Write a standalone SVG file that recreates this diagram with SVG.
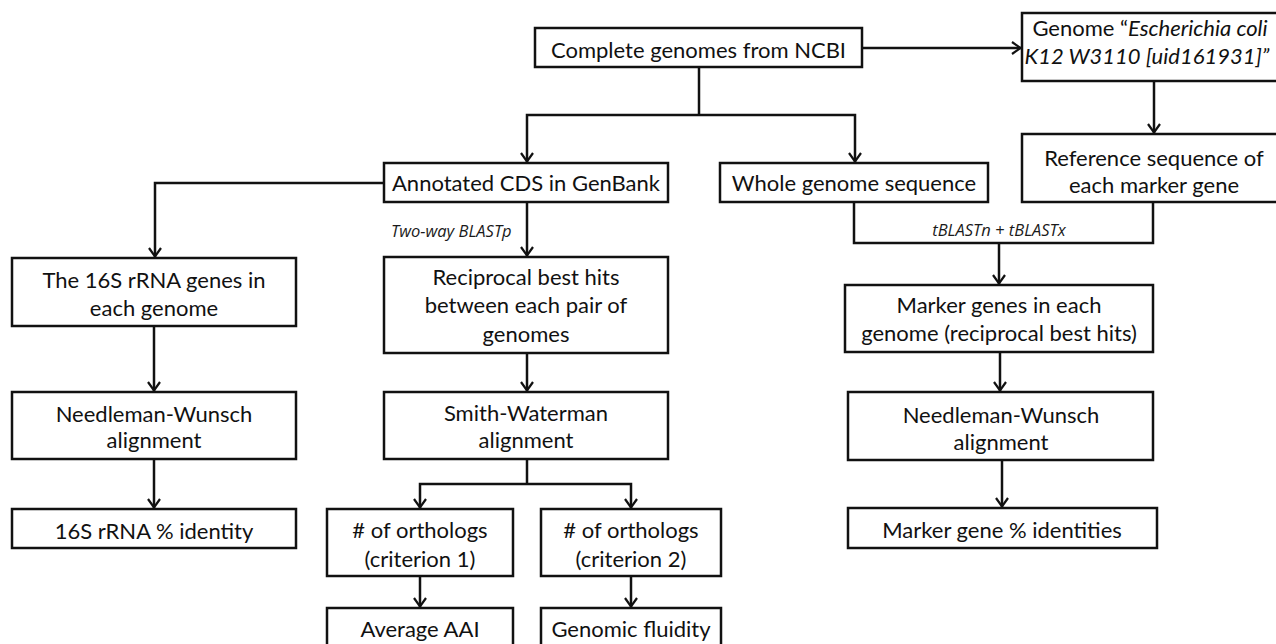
<svg xmlns="http://www.w3.org/2000/svg" width="1276" height="644" viewBox="0 0 1276 644">
<style>
  .box { fill: #fff; stroke: #111; stroke-width: 2.5; }
  .t { font-family: Lato, "Liberation Sans", sans-serif; font-size: 22px; fill: #111; text-anchor: middle; }
  .it { font-style: italic; }
  .lbl { font-family: "Open Sans", "Liberation Sans", sans-serif; font-size: 16.5px; font-style: italic; fill: #1a1a1a; }
  .c { fill: none; stroke: #111; stroke-width: 2.5; }
  .a { marker-end: url(#arr); }
</style>
<defs>
  <marker id="arr" viewBox="0 0 12 14" refX="11" refY="7" markerWidth="12" markerHeight="14" markerUnits="userSpaceOnUse" orient="auto">
    <path d="M2,1 L10.5,7 L2,13" fill="none" stroke="#111" stroke-width="2.2"/>
  </marker>
</defs>
<rect width="1276" height="644" fill="#fff"/>

<g id="connectors">
  <path class="c a" d="M862,48 H1021"/>
  <path class="c" d="M699,67 V115"/>
  <path class="c a" d="M699,115 H527 V162"/>
  <path class="c a" d="M699,115 H855 V162"/>
  <path class="c a" d="M1154,81 V133"/>
  <path class="c a" d="M384,183 H155 V257"/>
  <path class="c a" d="M527,202 V256"/>
  <path class="c" d="M854,202 V243 H1153 V202"/>
  <path class="c a" d="M999,243 V284"/>
  <path class="c a" d="M154,326 V391"/>
  <path class="c a" d="M154,459 V508"/>
  <path class="c a" d="M527,353 V391"/>
  <path class="c" d="M527,459 V484"/>
  <path class="c a" d="M527,484 H420 V508"/>
  <path class="c a" d="M527,484 H631 V508"/>
  <path class="c a" d="M420,576 V607"/>
  <path class="c a" d="M631,576 V607"/>
  <path class="c a" d="M1000,352 V391"/>
  <path class="c a" d="M1002,460 V507"/>
  <text class="lbl" x="391" y="237">Two-way BLASTp</text>
  <text class="lbl" x="999" y="236" text-anchor="middle">tBLASTn + tBLASTx</text>
</g>

<g id="complete">
  <rect class="box" x="535" y="28" width="327" height="39"/>
  <text class="t" x="698.5" y="58">Complete genomes from NCBI</text>
</g>
<g id="genome">
  <rect class="box" x="1022" y="13" width="270" height="68"/>
  <text class="t" x="1150" y="36">Genome “<tspan class="it">Escherichia coli</tspan></text>
  <text class="t it" x="1147" y="64">K12 W3110 [uid161931]”</text>
</g>
<g id="reference">
  <rect class="box" x="1022" y="134" width="270" height="68"/>
  <text class="t" x="1154" y="166">Reference sequence of</text>
  <text class="t" x="1154" y="193">each marker gene</text>
</g>
<g id="annotated">
  <rect class="box" x="384" y="163" width="284" height="39"/>
  <text class="t" x="526" y="191">Annotated CDS in GenBank</text>
</g>
<g id="whole">
  <rect class="box" x="720" y="163" width="268" height="39"/>
  <text class="t" x="854" y="191">Whole genome sequence</text>
</g>
<g id="rrna16s">
  <rect class="box" x="12" y="258" width="284" height="68"/>
  <text class="t" x="154" y="288">The 16S rRNA genes in</text>
  <text class="t" x="154" y="316">each genome</text>
</g>
<g id="reciprocal">
  <rect class="box" x="384" y="257" width="284" height="96"/>
  <text class="t" x="526" y="285">Reciprocal best hits</text>
  <text class="t" x="526" y="313">between each pair of</text>
  <text class="t" x="526" y="342">genomes</text>
</g>
<g id="markergenes">
  <rect class="box" x="845" y="285" width="308" height="67"/>
  <text class="t" x="999" y="313">Marker genes in each</text>
  <text class="t" x="999" y="341">genome (reciprocal best hits)</text>
</g>
<g id="nw-left">
  <rect class="box" x="12" y="392" width="284" height="67"/>
  <text class="t" x="154" y="422">Needleman-Wunsch</text>
  <text class="t" x="154" y="448">alignment</text>
</g>
<g id="smith">
  <rect class="box" x="384" y="392" width="284" height="67"/>
  <text class="t" x="526" y="421">Smith-Waterman</text>
  <text class="t" x="526" y="448">alignment</text>
</g>
<g id="nw-right">
  <rect class="box" x="848" y="392" width="305" height="68"/>
  <text class="t" x="1001" y="423">Needleman-Wunsch</text>
  <text class="t" x="1001" y="450">alignment</text>
</g>
<g id="identity16s">
  <rect class="box" x="12" y="509" width="284" height="39"/>
  <text class="t" x="154" y="539">16S rRNA % identity</text>
</g>
<g id="ortho1">
  <rect class="box" x="327" y="509" width="186" height="67"/>
  <text class="t" x="420" y="538"># of orthologs</text>
  <text class="t" x="420" y="567">(criterion 1)</text>
</g>
<g id="ortho2">
  <rect class="box" x="541" y="509" width="180" height="67"/>
  <text class="t" x="631" y="538"># of orthologs</text>
  <text class="t" x="631" y="567">(criterion 2)</text>
</g>
<g id="markerid">
  <rect class="box" x="848" y="508" width="309" height="40"/>
  <text class="t" x="1002" y="538">Marker gene % identities</text>
</g>
<g id="aai">
  <rect class="box" x="327" y="608" width="186" height="50"/>
  <text class="t" x="420" y="637">Average AAI</text>
</g>
<g id="fluidity">
  <rect class="box" x="541" y="608" width="180" height="50"/>
  <text class="t" x="631" y="637">Genomic fluidity</text>
</g>
</svg>
